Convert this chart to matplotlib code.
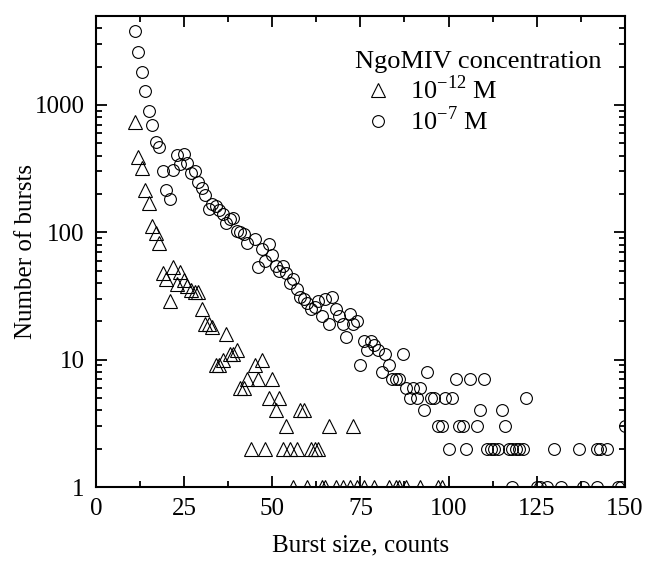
import matplotlib
matplotlib.use("Agg")
import matplotlib.pyplot as plt
from matplotlib.ticker import FixedLocator, LogLocator, NullFormatter, FuncFormatter

plt.rcParams["font.family"] = ["Liberation Serif", "DejaVu Serif"]
plt.rcParams["mathtext.fontset"] = "custom"
plt.rcParams["mathtext.rm"] = "Liberation Serif"

# 10^-12 M NgoMIV: burst size (counts) vs number of bursts
low_size = [11, 12, 13, 14, 15, 16, 17, 18, 19, 20, 21, 22, 23, 24, 25, 26, 27, 28, 29, 30,
            31, 32, 33, 34, 35, 36, 37, 38, 39, 40, 41, 42, 43, 44, 45, 46, 47, 48, 49, 50,
            51, 52, 53, 54, 55, 56, 57, 58, 59, 60, 61, 62, 63, 64, 65, 66, 68, 70, 72, 73,
            74, 76, 79, 83, 85, 86, 88, 92, 97, 98]
low_count = [740, 390, 320, 215, 170, 112, 99, 83, 48, 43, 29, 53, 39, 49, 42, 38, 35, 34, 34, 25,
             19, 19, 18, 9, 9, 10, 16, 11, 11, 12, 6, 6, 7, 2, 9, 7, 10, 2, 5, 7,
             4, 5, 2, 3, 2, 1, 2, 4, 4, 1, 2, 2, 2, 1, 1, 3, 1, 1, 1, 3,
             1, 1, 1, 1, 1, 1, 1, 1, 1, 1]

# 10^-7 M NgoMIV
high_size = [11, 12, 13, 14, 15, 16, 17, 18, 19, 20, 21, 22, 23, 24, 25, 26, 27, 28, 29, 30,
             31, 32, 33, 34, 35, 36, 37, 38, 39, 40, 41, 42, 43, 45, 46, 47, 48, 49, 50, 51,
             52, 53, 54, 55, 56, 57, 58, 59, 60, 61, 62, 63, 64, 65, 66, 67, 68, 69, 70, 71,
             72, 73, 74, 75, 76, 77, 78, 79, 80, 81, 82, 83, 84, 85, 86, 87, 88, 89, 90, 91,
             92, 93, 94, 95, 96, 97, 98, 99, 100, 101, 102, 103, 104, 105, 106, 108, 109, 110, 111, 112,
             113, 114, 115, 116, 117, 118, 119, 120, 121, 122, 118, 125, 126, 128, 130, 132, 137, 138, 142, 143,
             145, 142, 148, 149, 150]
high_count = [3800, 2600, 1800, 1280, 900, 700, 515, 470, 305, 213, 184, 308, 405, 342, 412, 352, 290, 305, 250, 221,
              196, 153, 168, 160, 149, 138, 118, 126, 130, 103, 100, 97, 82, 89, 53, 74, 59, 81, 66, 54,
              50, 54, 48, 40, 43, 36, 31, 30, 28, 25, 26, 29, 22, 30, 19, 31, 25, 22, 19, 15,
              23, 19, 20, 9, 14, 12, 14, 13, 12, 8, 11, 9, 7, 7, 7, 11, 6, 5, 6, 5,
              6, 4, 8, 5, 5, 3, 3, 5, 2, 5, 7, 3, 3, 2, 7, 3, 4, 7, 2, 2,
              2, 2, 4, 3, 2, 2, 2, 2, 2, 5, 1, 1, 1, 1, 2, 1, 2, 1, 2, 2,
              2, 1, 1, 1, 3]

fig = plt.figure(figsize=(6.47, 5.65), dpi=100)
ax = fig.add_axes([0.148, 0.138, 0.818, 0.834])

ax.plot(low_size, low_count, linestyle="none", marker="^", markersize=9.5,
        markerfacecolor="none", markeredgecolor="black", markeredgewidth=0.8,
        label=r"10$^{\mathregular{-12}}$ M")
ax.plot(high_size, high_count, linestyle="none", marker="o", markersize=8.5,
        markerfacecolor="none", markeredgecolor="black", markeredgewidth=0.8,
        label=r"10$^{\mathregular{-7}}$ M")

ax.set_yscale("log")
ax.set_xlim(0, 150)
ax.set_ylim(1, 5000)

ax.xaxis.set_major_locator(FixedLocator([0, 25, 50, 75, 100, 125, 150]))
ax.xaxis.set_minor_locator(FixedLocator([12.5, 37.5, 62.5, 87.5, 112.5, 137.5]))
ax.yaxis.set_major_locator(LogLocator(base=10, numticks=10))
ax.yaxis.set_minor_locator(LogLocator(base=10, subs=range(2, 10), numticks=20))
ax.yaxis.set_major_formatter(FuncFormatter(lambda v, p: f"{v:g}"))
ax.yaxis.set_minor_formatter(NullFormatter())

ax.tick_params(which="both", direction="in", top=True, right=True, labelsize=18, width=1.3)
ax.tick_params(which="major", length=8, pad=8)
ax.tick_params(which="minor", length=4)
for spine in ax.spines.values():
    spine.set_linewidth(1.5)

ax.set_xlabel("Burst size, counts", fontsize=18, labelpad=10)
ax.set_ylabel("Number of bursts", fontsize=18, labelpad=-2)

leg = ax.legend(title="NgoMIV concentration", loc="upper right", bbox_to_anchor=(0.99, 0.965),
                frameon=False, fontsize=19, title_fontsize=19, handletextpad=0.3,
                handlelength=1.8, labelspacing=0.1, borderpad=0.2)
leg._legend_box.align = "left"

fig.savefig("out.png", dpi=100)
